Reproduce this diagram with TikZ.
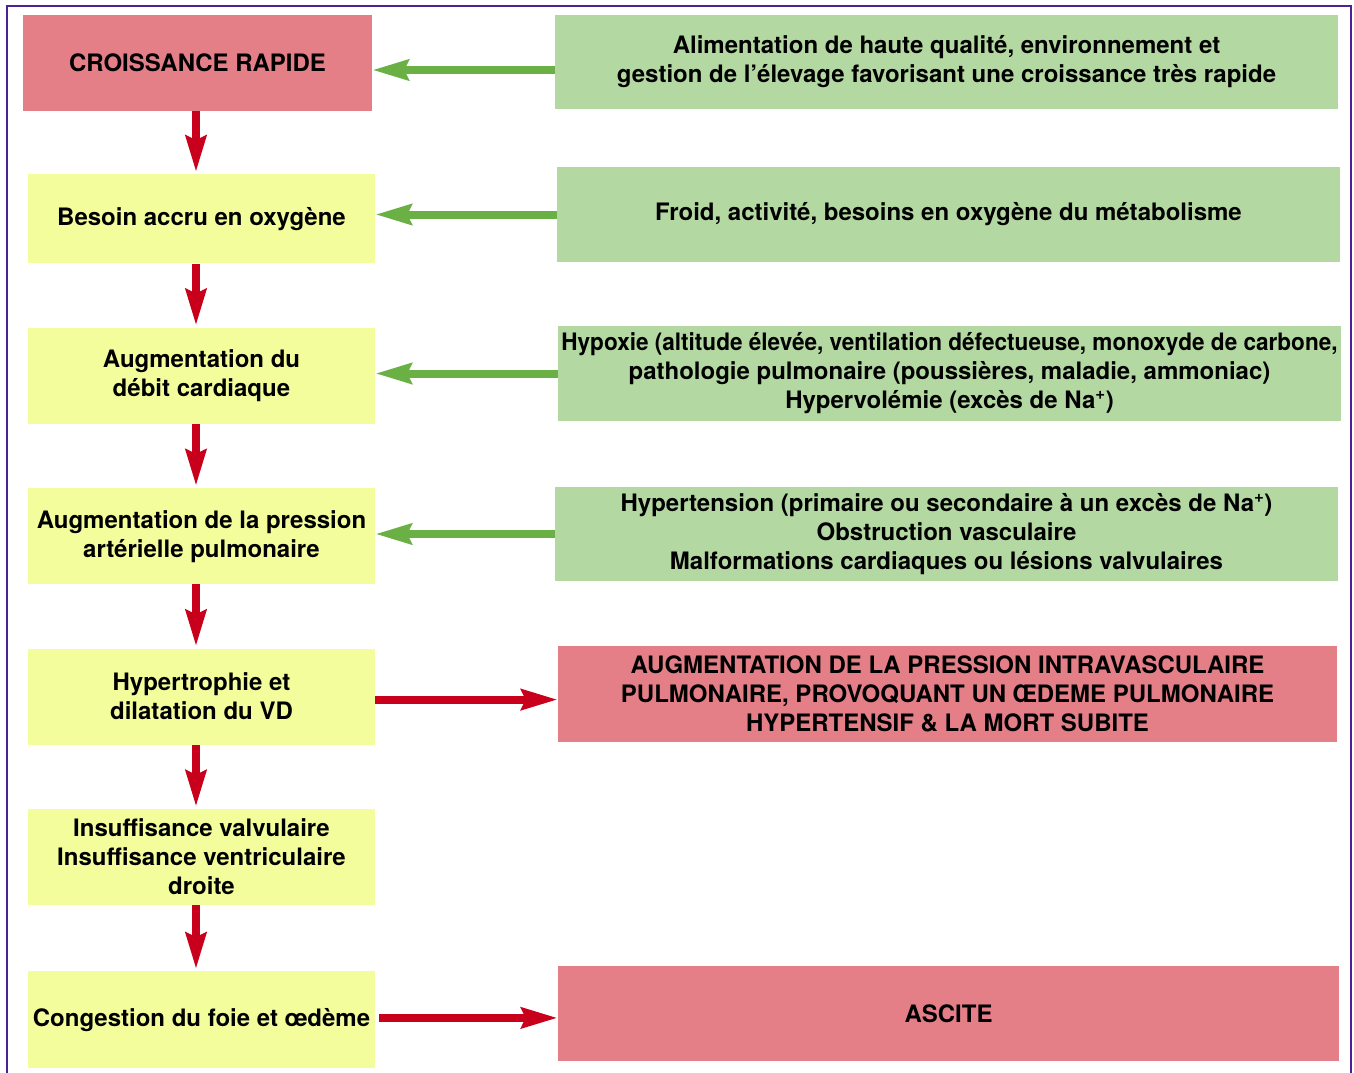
\documentclass[tikz,border=0pt]{standalone}
\usepackage{fontspec}
\setmainfont{TeX Gyre Heros}
\usetikzlibrary{arrows.meta,positioning}
\definecolor{boxpink}{HTML}{E47F88}
\definecolor{boxgreen}{HTML}{B3D8A1}
\definecolor{boxyellow}{HTML}{F4FD9C}
\definecolor{arrowred}{HTML}{C8001C}
\definecolor{arrowgreen}{HTML}{6BB045}
\definecolor{framepurple}{HTML}{4A2390}

\begin{document}
\begin{tikzpicture}[
    x=1pt, y=-1pt,
    box/.style={rectangle, inner sep=0pt, align=center,
                font=\fontsize{24}{29}\selectfont\bfseries},
    cause/.style={box, fill=boxyellow, minimum width=347pt, minimum height=96pt},
    factor/.style={box, fill=boxgreen, minimum width=783pt, minimum height=95pt},
    outcome/.style={box, fill=boxpink},
    redarrow/.style={-{Stealth[length=36pt, width=20pt, inset=4pt]}, line width=8pt, arrowred},
    greenarrow/.style={-{Stealth[length=36pt, width=20pt, inset=4pt]}, line width=8pt, arrowgreen},
]
\useasboundingbox (0,0) rectangle (1354,1073);

% Frame
\draw[framepurple, line width=2pt] (7,1090) -- (7,6) -- (1351,6) -- (1351,1090);

% Left column
\node[outcome, minimum width=349pt, minimum height=96pt] (c1) at (197.5,63) {CROISSANCE RAPIDE};
\node[cause, minimum height=89pt, below=63pt of c1, xshift=4pt] (c2) {Besoin accru en oxygène};
\node[cause, below=64pt of c2] (c3) {Augmentation du\\débit cardiaque};
\node[cause, below=64pt of c3] (c4) {Augmentation de la pression\\artérielle pulmonaire};
\node[cause, below=64pt of c4] (c5) {Hypertrophie et\\dilatation du VD};
\node[cause, below=64pt of c5] (c6) {Insuffisance valvulaire\\Insuffisance ventriculaire\\droite};
\node[cause, minimum height=97pt, below=66pt of c6] (c7) {Congestion du foie et œdème};

% Right column
\node[factor, minimum height=94pt] (r1) at (946.5,62) {Alimentation de haute qualité, environnement et\\gestion de l’élevage favorisant une croissance très rapide};
\node[factor] (r2) at (948.5,214.5) {Froid, activité, besoins en oxygène du métabolisme};
\node[factor] (r3) at (949.5,373.5) {\scalebox{0.94}[1]{Hypoxie (altitude élevée, ventilation défectueuse, monoxyde de carbone,}\\pathologie pulmonaire (poussières, maladie, ammoniac)\\Hypervolémie (excès de Na\textsuperscript{+})};
\node[factor, minimum height=94pt] (r4) at (946.5,534) {Hypertension (primaire ou secondaire à un excès de Na\textsuperscript{+})\\Obstruction vasculaire\\Malformations cardiaques ou lésions valvulaires};
\node[outcome, minimum width=779pt, minimum height=96pt] (r5) at (947.5,694) {AUGMENTATION DE LA PRESSION INTRAVASCULAIRE\\PULMONAIRE, PROVOQUANT UN ŒDEME PULMONAIRE\\HYPERTENSIF \& LA MORT SUBITE};
\node[outcome, minimum width=781pt, minimum height=95pt] (r6) at (948.5,1013.5) {ASCITE};

% Arrows
\coordinate (axis) at (196,0);
\foreach \a/\b in {c1/c2, c2/c3, c3/c4, c4/c5, c5/c6, c6/c7}
  \draw[redarrow, shorten >=2pt] (\a.south -| axis) -- (\b.north -| axis);

\draw[greenarrow] ([yshift=-8pt]r1.west) -- ([yshift=-8pt]r1.west -| c1.east);
\foreach \r/\c in {r2/c2, r3/c3, r4/c4}
  \draw[greenarrow] (\r.west) -- (\r.west -| \c.east);

\draw[redarrow] ([yshift=-3pt]c5.east) -- ([yshift=-3pt]c5.east -| r5.west);
\draw[redarrow, shorten <=4pt] ([yshift=2pt]c7.east) -- ([yshift=2pt]c7.east -| r6.west);

\end{tikzpicture}
\end{document}
